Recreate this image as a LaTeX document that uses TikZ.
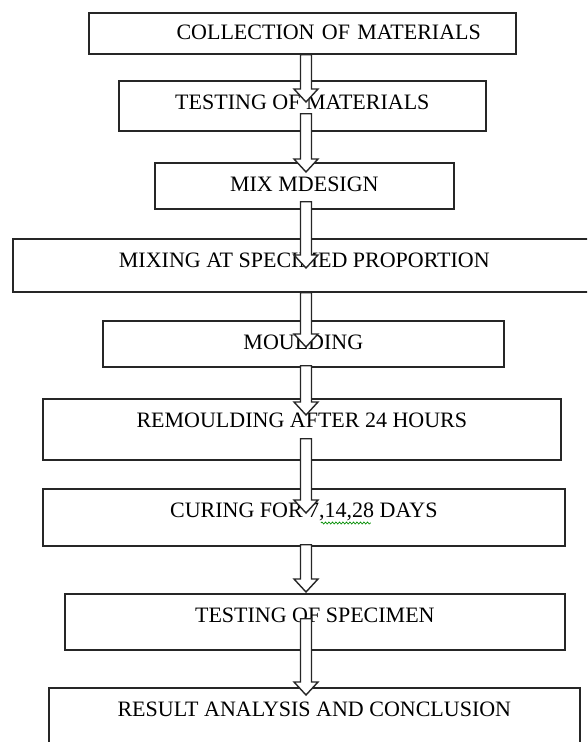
\documentclass[tikz,border=0pt]{standalone}
\usepackage{fontspec}
\setmainfont{Liberation Serif}
\usetikzlibrary{calc,decorations.pathmorphing}

\tikzset{
  flowbox/.style={draw=black!85, line width=1.7pt, anchor=north west, inner xsep=0pt, inner ysep=0pt,
    text height=29pt, align=center, font=\fontsize{22}{26}\selectfont},
  arrowbody/.style={draw=black!85, line width=1.4pt, fill=white, line join=miter},
  spellmark/.style={draw=green!55!black, line width=0.7pt, decorate,
    decoration={snake, amplitude=1pt, segment length=3.5pt}}
}
% hollow block arrow from #1 (top of shaft) to #2 (tip)
\newcommand{\flowarrow}[2]{%
  \path (#1) coordinate (fa-s) (#2) coordinate (fa-t);
  \draw[arrowbody] ($(fa-s)+(-5.5,0)$) -- ($(fa-t)+(-5.5,-13)$) -- ($(fa-t)+(-12,-13)$) -- (fa-t)
    -- ($(fa-t)+(12,-13)$) -- ($(fa-t)+(5.5,-13)$) -- ($(fa-s)+(5.5,0)$) -- cycle;}

\begin{document}
\begin{tikzpicture}[x=1pt,y=-1pt]
  \useasboundingbox (0,0) rectangle (587,742);
  \clip (0,0) rectangle (587,742);

  \node[flowbox, minimum width=427pt, text height=27pt, text depth=14pt, text width=357pt, align=right] (collect) at (88,12) {COLLECTION OF MATERIALS};
  \node[flowbox, minimum width=367pt, text depth=21pt] (testmat) at (118,80) {TESTING OF MATERIALS};
  \node[flowbox, minimum width=299pt, text depth=17pt] (mixdesign) at (154,162) {MIX MDESIGN};
  \node[flowbox, minimum width=583pt, text depth=24pt] (mixing) at (12,238) {MIXING AT SPECIMED PROPORTION};
  \node[flowbox, minimum width=401pt, text depth=17pt] (moulding) at (102,320) {MOULDING};
  \node[flowbox, minimum width=518pt, text depth=32pt] (remould) at (42,398) {REMOULDING AFTER 24 HOURS};
  \node[flowbox, minimum width=522pt, text depth=28pt] (curing) at (42,488) {CURING FOR 7,14,28 DAYS};
  \node[flowbox, minimum width=500pt, text depth=27pt] (testspec) at (64,593) {TESTING OF SPECIMEN};
  \node[flowbox, minimum width=531pt, text depth=44pt] (result) at (48,687) {RESULT ANALYSIS AND CONCLUSION};

  \draw[spellmark] ($(curing.north)+(17,35)$) -- ++(50,0);

  \coordinate (axis) at (306,0);
  \flowarrow{axis |- collect.south}{$(axis |- testmat.north)+(0,22)$}
  \flowarrow{$(axis |- testmat.south)+(0,-18)$}{$(axis |- mixdesign.north)+(0,10)$}
  \flowarrow{$(axis |- mixdesign.south)+(0,-8)$}{$(axis |- mixing.north)+(0,30)$}
  \flowarrow{axis |- mixing.south}{$(axis |- moulding.north)+(0,27)$}
  \flowarrow{$(axis |- moulding.south)+(0,-2)$}{$(axis |- remould.north)+(0,17)$}
  \flowarrow{$(axis |- remould.south)+(0,-22)$}{$(axis |- curing.north)+(0,25)$}
  \flowarrow{$(axis |- curing.south)+(0,-2)$}{$(axis |- testspec.north)+(0,-1)$}
  \flowarrow{$(axis |- testspec.south)+(0,-32)$}{$(axis |- result.north)+(0,8)$}
\end{tikzpicture}
\end{document}
